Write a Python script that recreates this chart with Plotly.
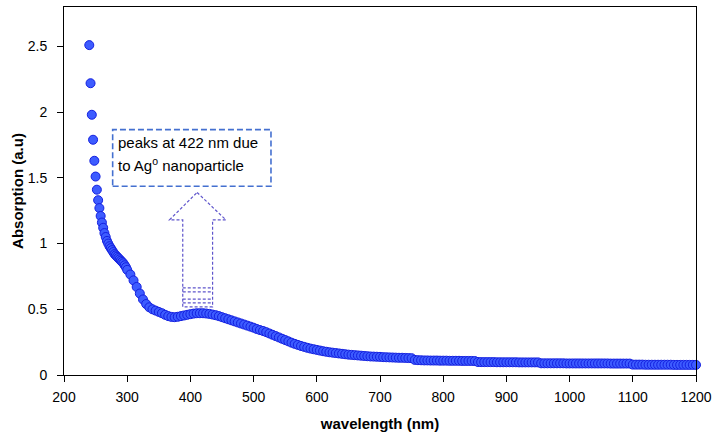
import plotly.graph_objects as go

# ---- data ----
wl_fine = list(range(240, 301, 2))          # 240..300 nm, 2 nm step
abs_fine = [2.51, 2.22, 1.98, 1.79, 1.63, 1.51, 1.41, 1.33, 1.27, 1.21,
            1.16, 1.12, 1.08, 1.05, 1.02, 1.00, 0.98, 0.965, 0.95, 0.935,
            0.92, 0.91, 0.90, 0.89, 0.88, 0.87, 0.86, 0.85, 0.835, 0.82,
            0.80]

wl_coarse = list(range(305, 1201, 5))       # 305..1200 nm, 5 nm step
abs_coarse = [
    # 305-400
    0.765, 0.72, 0.67, 0.62, 0.575, 0.54, 0.515, 0.50, 0.49, 0.48,
    0.47, 0.458, 0.448, 0.442, 0.44, 0.443, 0.448, 0.453, 0.458, 0.463,
    # 405-500
    0.467, 0.47, 0.47, 0.47, 0.468, 0.465, 0.46, 0.455, 0.448, 0.44,
    0.432, 0.424, 0.416, 0.408, 0.40, 0.392, 0.384, 0.376, 0.368, 0.36,
    # 505-600
    0.35, 0.342, 0.335, 0.326, 0.316, 0.306, 0.296, 0.286, 0.276, 0.266,
    0.256, 0.246, 0.237, 0.229, 0.221, 0.214, 0.207, 0.201, 0.196, 0.191,
    # 605-700
    0.186, 0.181, 0.177, 0.173, 0.17, 0.167, 0.164, 0.161, 0.158, 0.155,
    0.153, 0.151, 0.149, 0.147, 0.145, 0.143, 0.141, 0.14, 0.139, 0.138,
    # 705-800
    0.136, 0.135, 0.134, 0.133, 0.132, 0.131, 0.131, 0.13, 0.129, 0.128,
    0.115, 0.113, 0.112, 0.111, 0.111, 0.110, 0.110, 0.110, 0.109, 0.109,
    # 805-900
    0.109, 0.108, 0.108, 0.108, 0.108, 0.107, 0.107, 0.107, 0.107, 0.106,
    0.099, 0.098, 0.098, 0.098, 0.098, 0.098, 0.097, 0.097, 0.097, 0.097,
    # 905-1000
    0.097, 0.097, 0.097, 0.096, 0.096, 0.096, 0.096, 0.096, 0.096, 0.096,
    0.089, 0.089, 0.089, 0.089, 0.089, 0.089, 0.089, 0.089, 0.088, 0.088,
    # 1005-1100
    0.088, 0.088, 0.088, 0.088, 0.088, 0.088, 0.088, 0.088, 0.088, 0.088,
    0.088, 0.088, 0.087, 0.087, 0.087, 0.087, 0.087, 0.087, 0.087, 0.079,
    # 1105-1200
    0.079, 0.079, 0.079, 0.078, 0.078, 0.078, 0.078, 0.078, 0.078, 0.078,
    0.078, 0.078, 0.077, 0.077, 0.077, 0.077, 0.077, 0.077, 0.077, 0.077,
]

wavelength = wl_fine + wl_coarse
absorption = abs_fine + abs_coarse

x_ticks = [200, 300, 400, 500, 600, 700, 800, 900, 1000, 1100, 1200]
y_ticks = [0, 0.5, 1, 1.5, 2, 2.5]

note_lines = ["peaks at 422 nm due", "to Ag<sup>o</sup> nanoparticle"]

FONT = "Liberation Sans, Arial, sans-serif"

fig = go.Figure()
fig.add_trace(go.Scatter(
    x=wavelength, y=absorption, mode="markers",
    marker=dict(size=9, color="#3d5cff", line=dict(color="#1420e0", width=1)),
    cliponaxis=False, showlegend=False,
))

# annotation box (dashed)
fig.add_shape(type="rect", xref="x", yref="y", x0=277, x1=527.5, y0=1.436, y1=1.867,
              line=dict(color="#4470d0", width=1.6, dash="6px,3px"),
              fillcolor="rgba(0,0,0,0)")
fig.add_annotation(x=283, y=1.767, xref="x", yref="y", text=note_lines[0],
                   showarrow=False, xanchor="left", yanchor="middle",
                   font=dict(family=FONT, size=15, color="black"))
fig.add_annotation(x=283, y=1.598, xref="x", yref="y", text=note_lines[1],
                   showarrow=False, xanchor="left", yanchor="middle",
                   font=dict(family=FONT, size=15, color="black"))

# dashed block arrow pointing up
arrow_col = "#5f55cc"
arrow_path = ("M 410.6 1.389 L 456.2 1.180 L 435.1 1.180 L 435.1 0.519 "
              "L 387.9 0.519 L 387.9 1.180 L 366.9 1.180 Z")
fig.add_shape(type="path", xref="x", yref="y", path=arrow_path,
              line=dict(color=arrow_col, width=1.2, dash="3px,2px"))
for yy in [0.663, 0.633, 0.578, 0.549]:
    fig.add_shape(type="line", xref="x", yref="y", x0=387.9, x1=435.1, y0=yy, y1=yy,
                  line=dict(color=arrow_col, width=1.2, dash="3px,2px"))

fig.update_layout(
    width=718, height=438,
    margin=dict(l=64, r=19, t=6, b=63),
    paper_bgcolor="white", plot_bgcolor="white",
    font=dict(family=FONT, size=14, color="black"),
)
fig.update_xaxes(
    range=[200, 1200], tickvals=x_ticks, ticks="outside", ticklen=6,
    tickcolor="black", showline=True, linecolor="black", linewidth=1,
    mirror=True, showgrid=False, zeroline=False, ticklabelstandoff=3,
    title=dict(text="<b>wavelength (nm)</b>", font=dict(size=15), standoff=14),
)
fig.update_yaxes(
    range=[0, 2.8], tickvals=y_ticks, ticks="outside", ticklen=6,
    tickcolor="black", showline=True, linecolor="black", linewidth=1,
    mirror=True, showgrid=False, zeroline=False, ticklabelstandoff=7,
    title=dict(text="<b>Absorption (a.u)</b>", font=dict(size=15), standoff=0),
)

fig.write_html("out.html", config={"displayModeBar": False},
               post_script="document.body.style.margin='0';document.body.style.overflow='hidden';")
